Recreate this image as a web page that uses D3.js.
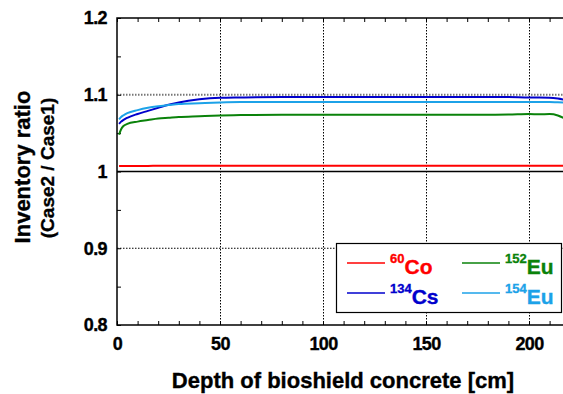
<!DOCTYPE html>
<html>
<head>
<meta charset="utf-8">
<script src="https://cdn.jsdelivr.net/npm/d3@7"></script>
<style>
  body { margin: 0; background: #fff; }
  svg { display: block; font-family: "Liberation Sans", Arial, sans-serif; }
  .tick text { font-weight: bold; font-size: 18px; fill: #000; stroke: #000; stroke-width: 0.35px; }
  .heavy { stroke-width: 0.35px; }
</style>
</head>
<body>
<svg id="chart" width="563" height="394"></svg>
<script>
// depth into the bioshield concrete (cm)
const depth = [1, 2, 3, 5, 10, 15, 20, 25, 30, 40, 50, 60, 80, 100, 120, 140, 160, 180, 190, 200, 205, 210, 214, 217];

// inventory ratio Case2 / Case1 for each nuclide
const co60  = [1.0072, 1.0072, 1.0073, 1.0073, 1.0073, 1.0073, 1.0074, 1.0074, 1.0074, 1.0074, 1.0074, 1.0074, 1.0074, 1.0074, 1.0074, 1.0074, 1.0074, 1.0074, 1.0074, 1.0074, 1.0074, 1.0074, 1.0074, 1.0074];
const cs134 = [1.062, 1.065, 1.067, 1.070, 1.075, 1.079, 1.083, 1.087, 1.090, 1.094, 1.096, 1.0965, 1.097, 1.097, 1.097, 1.097, 1.097, 1.097, 1.097, 1.0965, 1.0965, 1.0962, 1.095, 1.0935];
const eu152 = [1.048, 1.055, 1.059, 1.062, 1.065, 1.067, 1.069, 1.070, 1.071, 1.072, 1.073, 1.0735, 1.074, 1.074, 1.074, 1.074, 1.074, 1.074, 1.0742, 1.075, 1.0745, 1.0748, 1.073, 1.0695];
const eu154 = [1.068, 1.071, 1.073, 1.076, 1.080, 1.083, 1.085, 1.0865, 1.088, 1.089, 1.090, 1.0905, 1.0905, 1.0905, 1.0905, 1.0905, 1.0905, 1.0905, 1.0905, 1.0905, 1.0905, 1.0905, 1.0902, 1.090];

const xTicks = [0, 50, 100, 150, 200];
const yTicks = [0.8, 0.9, 1, 1.1, 1.2];

const series = [
  {mass: "60",  el: "Co", values: co60,  color: "#ff0000"},
  {mass: "134", el: "Cs", values: cs134, color: "#0000cc"},
  {mass: "152", el: "Eu", values: eu152, color: "#0a820a"},
  {mass: "154", el: "Eu", values: eu154, color: "#1ca2e8"}
];

const margin = {top: 18, left: 117, bottom: 69};
const width = 563, height = 394;
const plotBottom = height - margin.bottom;

const x = d3.scaleLinear([0, 217], [margin.left, margin.left + 217 * 2.06]);
const y = d3.scaleLinear([0.8, 1.2], [plotBottom, margin.top]);

const svg = d3.select("#chart");

svg.append("clipPath").attr("id", "plot")
  .append("rect")
    .attr("x", margin.left).attr("y", margin.top)
    .attr("width", x(217) - margin.left).attr("height", plotBottom - margin.top);

// dotted grid
const grid = svg.append("g").attr("fill", "none");
grid.selectAll("line.vx")
  .data(xTicks.slice(1))
  .join("line")
    .attr("x1", d => x(d) + 0.5).attr("x2", d => x(d) + 0.5)
    .attr("y1", margin.top).attr("y2", plotBottom)
    .attr("stroke", "#000").attr("stroke-width", 1)
    .attr("stroke-dasharray", "1.5,1.5");
grid.selectAll("line.hy")
  .data([0.9, 1.1])
  .join("line")
    .attr("x1", margin.left).attr("x2", x(217))
    .attr("y1", d => y(d)).attr("y2", d => y(d))
    .attr("stroke", d => d === 1.1 ? "#777" : "#000")
    .attr("stroke-width", d => d === 1.1 ? 2 : 1)
    .attr("stroke-dasharray", "1.5,1.5");
// solid reference line at ratio 1
grid.append("line")
  .attr("x1", margin.left).attr("x2", x(217))
  .attr("y1", y(1)).attr("y2", y(1))
  .attr("stroke", "#000").attr("stroke-width", 1.5);

// minor ticks, inward
const minorX = d3.range(0, 217, 10);
const minorY = d3.range(0.8, 1.2001, 0.05);
svg.append("g")
  .attr("transform", `translate(0,${plotBottom})`)
  .call(d3.axisBottom(x).tickValues(minorX).tickSize(-4).tickFormat(""))
  .call(g => g.select(".domain").remove());
svg.append("g")
  .attr("transform", `translate(0,${margin.top})`)
  .call(d3.axisTop(x).tickValues(minorX).tickSize(-4).tickFormat(""))
  .call(g => g.select(".domain").remove());
svg.append("g")
  .attr("transform", `translate(${margin.left},0)`)
  .call(d3.axisLeft(y).tickValues(minorY).tickSize(-4).tickFormat(""))
  .call(g => g.select(".domain").remove());

// labelled axes
svg.append("g")
  .attr("transform", `translate(0,${plotBottom})`)
  .call(d3.axisBottom(x).tickValues(xTicks).tickSize(0).tickPadding(12))
  .call(g => g.select(".domain").remove())
  .call(g => g.selectAll("text").attr("letter-spacing", "-0.6px"));
svg.append("g")
  .attr("transform", `translate(${margin.left},0)`)
  .call(d3.axisLeft(y).tickValues(yTicks).tickSize(0).tickPadding(10)
    .tickFormat(d => d === 1 ? "1" : d3.format(".1f")(d)))
  .call(g => g.select(".domain").remove())
  .call(g => g.selectAll("text").attr("letter-spacing", "-0.6px"));

// frame (right edge sits just off the page)
svg.append("path")
  .attr("d", `M${x(217)},${margin.top}H${margin.left}V${plotBottom}H${x(217)}`)
  .attr("fill", "none").attr("stroke", "#000").attr("stroke-width", 1.5);

// ratio curves
const line = d3.line()
  .x((d, i) => x(depth[i]))
  .y(d => y(d))
  .curve(d3.curveMonotoneX);

svg.append("g")
  .attr("clip-path", "url(#plot)")
  .selectAll("path")
  .data(series)
  .join("path")
    .attr("d", d => line(d.values))
    .attr("fill", "none")
    .attr("stroke", d => d.color)
    .attr("stroke-width", 2);

// axis titles
svg.append("text")
  .attr("class", "heavy")
  .attr("x", 343).attr("y", 388)
  .attr("text-anchor", "middle")
  .attr("font-weight", "bold").attr("font-size", 22)
  .attr("stroke", "#000")
  .text("Depth of bioshield concrete [cm]");

svg.append("text")
  .attr("class", "heavy")
  .attr("transform", "translate(30,167) rotate(-90)")
  .attr("text-anchor", "middle")
  .attr("font-weight", "bold").attr("font-size", 22)
  .attr("stroke", "#000")
  .text("Inventory ratio");
svg.append("text")
  .attr("class", "heavy")
  .attr("transform", "translate(54,168) rotate(-90)")
  .attr("text-anchor", "middle")
  .attr("font-weight", "bold").attr("font-size", 19)
  .attr("stroke", "#000")
  .text("(Case2 / Case1)");

// legend
const legend = svg.append("g");
legend.append("rect")
  .attr("x", 336.5).attr("y", 243.5)
  .attr("width", 225).attr("height", 69)
  .attr("fill", "#fff").attr("stroke", "#000").attr("stroke-width", 1.2);

const slots = [
  {lx: 347, ly: 263},
  {lx: 347, ly: 293},
  {lx: 462, ly: 263},
  {lx: 462, ly: 293}
];
series.forEach((s, i) => {
  const p = slots[i];
  const item = legend.append("g").attr("transform", `translate(${p.lx},${p.ly})`);
  item.append("line")
    .attr("x1", 0).attr("x2", 38)
    .attr("stroke", s.color).attr("stroke-width", 1.5);
  const t = item.append("text")
    .attr("class", "heavy")
    .attr("x", 43).attr("y", 11)
    .attr("fill", s.color).attr("stroke", s.color)
    .attr("font-weight", "bold");
  t.append("tspan").attr("font-size", 13).attr("dy", -11).text(s.mass);
  t.append("tspan").attr("font-size", 21).attr("dy", 11).text(s.el);
});
</script>
</body>
</html>
